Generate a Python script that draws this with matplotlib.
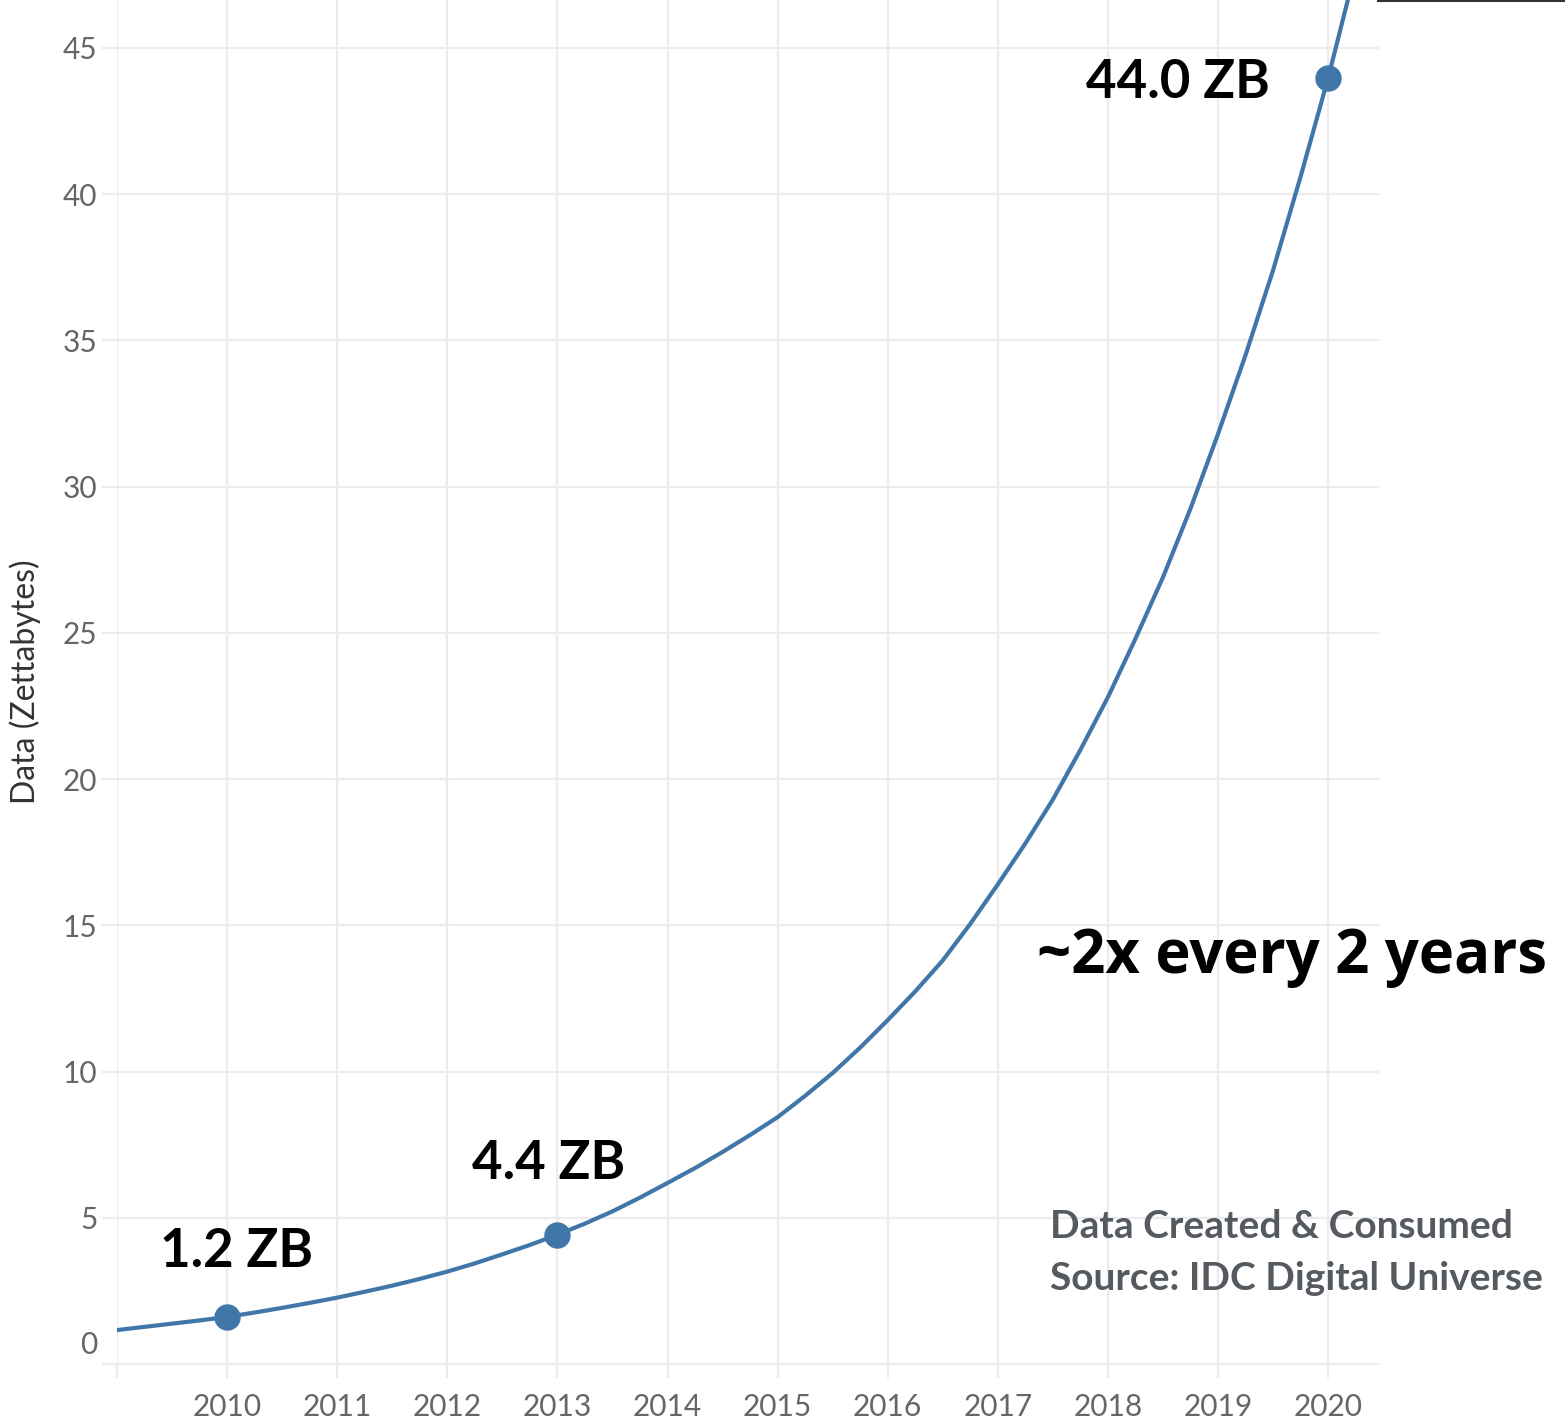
import matplotlib

matplotlib.use("Agg")
import matplotlib.pyplot as plt
from matplotlib.lines import Line2D
from matplotlib.transforms import ScaledTranslation

# curve, quarter-year steps (zettabytes)
years = [2009.0, 2009.25, 2009.5, 2009.75, 2010.0, 2010.25, 2010.5, 2010.75,
         2011.0, 2011.25, 2011.5, 2011.75, 2012.0, 2012.25, 2012.5, 2012.75,
         2013.0, 2013.25, 2013.5, 2013.75, 2014.0, 2014.25, 2014.5, 2014.75,
         2015.0, 2015.25, 2015.5, 2015.75, 2016.0, 2016.25, 2016.5, 2016.75,
         2017.0, 2017.25, 2017.5, 2017.75, 2018.0, 2018.25, 2018.5, 2018.75,
         2019.0, 2019.25, 2019.5, 2019.75, 2020.0, 2020.25]
zettabytes = [1.16, 1.27, 1.38, 1.49, 1.61, 1.76, 1.92, 2.09,
              2.27, 2.47, 2.68, 2.91, 3.16, 3.44, 3.75, 4.07,
              4.42, 4.80, 5.22, 5.69, 6.19, 6.70, 7.25, 7.83,
              8.44, 9.17, 9.95, 10.82, 11.76, 12.74, 13.8, 15.05,
              16.4, 17.8, 19.3, 21.0, 22.8, 24.8, 26.9, 29.25,
              31.8, 34.5, 37.4, 40.6, 43.97, 47.7]

# highlighted points and their labels
point_years = [2010, 2013, 2020]
point_values = [1.61, 4.42, 43.97]
point_labels = ["1.2 ZB", "4.4 ZB", "44.0 ZB"]

x_ticks = list(range(2009, 2021))
x_tick_labels = [""] + [str(y) for y in range(2010, 2021)]
y_ticks = [0, 5, 10, 15, 20, 25, 30, 35, 40, 45]

BLUE = "#4176a9"
GRID = "#ececec"
FONT = "Lato"

fig = plt.figure(figsize=(15.65, 14.21), dpi=100)
ax = fig.add_axes([117 / 1565, 57 / 1421, (1378 - 117) / 1565, 1 - 57 / 1421])

ax.set_xlim(2009, 2020.453)
ax.set_ylim(0, 46.64)
for side in ax.spines.values():
    side.set_visible(False)

# grid: horizontal lines stick out a little to the left, like Tableau
for v in y_ticks:
    ax.axhline(v, xmin=-0.0111, xmax=1, color=GRID, lw=1.6, clip_on=False, zorder=0)
for yr in x_ticks:
    ax.axvline(yr, color=GRID, lw=1.6, zorder=0)

ax.set_xticks(x_ticks)
ax.set_xticklabels(x_tick_labels)
ax.set_yticks(y_ticks)
ax.set_yticklabels([str(v) for v in y_ticks])
ax.tick_params(axis="x", length=10, width=1.6, color=GRID, pad=11,
               labelsize=21.5, labelcolor="#666666")
ax.tick_params(axis="y", length=0, pad=14, labelsize=21.5, labelcolor="#666666")
for lab in ax.get_xticklabels() + ax.get_yticklabels():
    lab.set_family(FONT)

# Tableau nudges the bottom "0" label up off the axis line
zero = ax.get_yticklabels()[0]
zero.set_transform(zero.get_transform() + ScaledTranslation(0, 21 / 100, fig.dpi_scale_trans))

ax.set_ylabel("Data (Zettabytes)", fontsize=23, color="#333333", family=FONT, va="center")
ax.yaxis.set_label_coords(-0.073, 0.5)

ax.plot(years, zettabytes, color=BLUE, lw=3.0, solid_capstyle="round", zorder=3)
ax.plot(point_years, point_values, "o", color=BLUE, ms=18, zorder=4)

label_offsets = [(7, 36), (-6, 40), (-108, -14)]
for yr, val, text, off in zip(point_years, point_values, point_labels, label_offsets):
    ax.annotate(text, xy=(yr, val), xytext=off, textcoords="offset points",
                ha="center", va="baseline", fontsize=38, fontweight="bold",
                family=FONT, color="black", annotation_clip=False)

fig.text(1037 / 1565, 1 - 973 / 1421, "~2x every 2 years", fontsize=43,
         fontweight="bold", family="Open Sans", color="black", ha="left", va="baseline")
fig.text(1050 / 1565, 1 - 1238 / 1421, "Data Created & Consumed", fontsize=28,
         fontweight="bold", family=FONT, color="#555a61", ha="left", va="baseline")
fig.text(1050 / 1565, 1 - 1290 / 1421, "Source: IDC Digital Universe", fontsize=28,
         fontweight="bold", family=FONT, color="#555a61", ha="left", va="baseline")

# stray rule at the top right of the original crop
fig.add_artist(Line2D([1378 / 1565, 1], [1 - 1 / 1421] * 2, transform=fig.transFigure,
                      color="#333333", lw=1.5))

fig.savefig("out.png", dpi=100, facecolor="white")
